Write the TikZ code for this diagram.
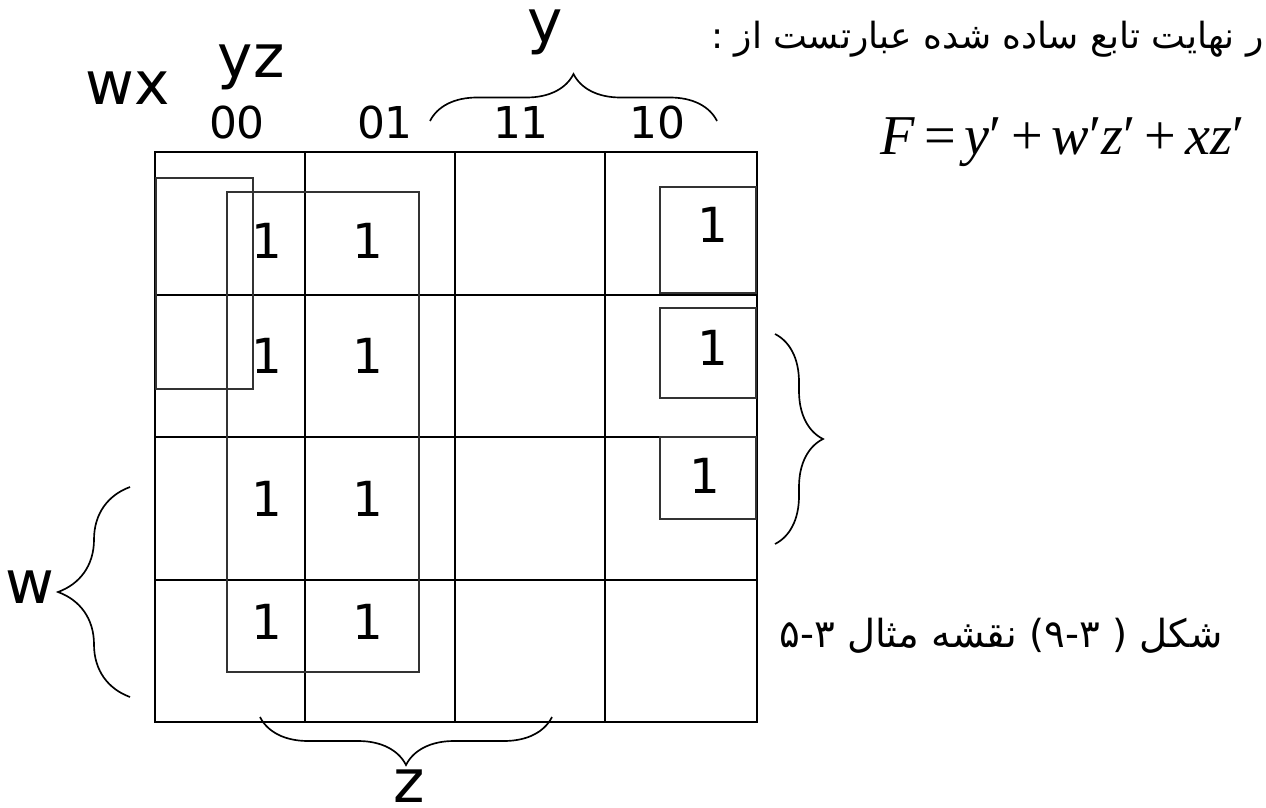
\documentclass[tikz,border=0pt]{standalone}
\usepackage{fontspec}
\setmainfont{DejaVu Sans}
\newfontfamily\farsifont[Script=Arabic]{DejaVu Sans}
\newfontfamily\termfont{Liberation Serif}
\TeXXeTstate=1
\usetikzlibrary{decorations.pathreplacing}
\tikzset{
  gridline/.style={line width=1.15pt, draw=black},
  group/.style={line width=0.85pt, draw=black!80},
  curly/.style={decorate, decoration={brace, amplitude=#1}, line width=0.95pt},
  varlabel/.style={anchor=base, font=\fontsize{34}{40}\selectfont},
  colcode/.style={anchor=base, font=\fontsize{25}{30}\selectfont},
  one/.style={anchor=base, font=\fontsize{27.5}{32}\selectfont},
  farsi/.style={anchor=base east, inner sep=0pt, font=\farsifont\fontsize{#1}{26}\selectfont},
}
\newcommand{\gap}{\hspace{0.16em}}

\begin{document}
\begin{tikzpicture}[x=0.02cm, y=-0.02cm]
  \useasboundingbox (0,0) rectangle (1266,807);
  % the map, 4 x 4 cells
  \draw[gridline] (155,152) rectangle (757,722);
  \foreach \x in {305,455,605} {\draw[gridline] (\x,152) -- (\x,722);}
  \foreach \y in {295,437,580} {\draw[gridline] (155,\y) -- (757,\y);}
  % groups
  \draw[group] (227,192) rectangle (419,672);
  \draw[group] (156,178) rectangle (253,389);
  \draw[group] (660,187) rectangle (756,293);
  \draw[group] (660,308) rectangle (756,398);
  \draw[group] (660,437) rectangle (756,519);
  % cells holding 1
  \foreach \r/\yb in {a/258, b/373, c/516, d/639} {
    \node[one] (\r0) at (267,\yb) {1};
    \node[one] (\r1) at (368,\yb) {1};
  }
  \node[one] (a3) at (713,243) {1};
  \node[one] (b3) at (713,365) {1};
  \node[one] (c3) at (705,493) {1};
  % headings
  \node[varlabel] (wx) at (128,105) {wx};
  \node[varlabel] (yz) at (251,78) {yz};
  \foreach \c/\x/\t in {c00/237/00, c01/385/01, c11/521/11, c10/657/10} {
    \node[colcode] (\c) at (\x,139) {\t};
  }
  % braces
  \coordinate (ya) at (430,121);
  \coordinate (yb) at (717,121);
  \draw[curly=0.94cm] (ya) -- (yb);
  \node[varlabel] (ylab) at (545,43) {y};
  \coordinate (wa) at (130,697);
  \coordinate (wb) at (130,487);
  \draw[curly=1.44cm] (wa) -- (wb);
  \node[varlabel] (wlab) at (30,603) {w};
  \coordinate (za) at (552,717);
  \coordinate (zb) at (260,717);
  \draw[curly=0.96cm] (za) -- (zb);
  \node[varlabel, inner sep=0pt] (zlab) at (409,802) {z};
  \coordinate (xa) at (775,334);
  \coordinate (xb) at (775,544);
  \draw[curly=0.96cm] (xa) -- (xb);
  % result and caption
  \node[farsi=20.5] (head) at (1264,49) {\beginR ر نهایت تابع ساده شده عبارتست از :\endR};
  \node[anchor=base west, inner sep=0pt, font=\termfont\fontsize{32}{38}\selectfont] (func) at (880,155)
    {\textit{F}\gap=\gap\textit{y}′\gap+\gap\textit{w}′\textit{z}′\gap+\gap\textit{xz}′};
  \node[farsi=22] (caption) at (1223,647) {\beginR شکل ( ۹-۳) نقشه مثال ۵-۳\endR};
\end{tikzpicture}
\end{document}
